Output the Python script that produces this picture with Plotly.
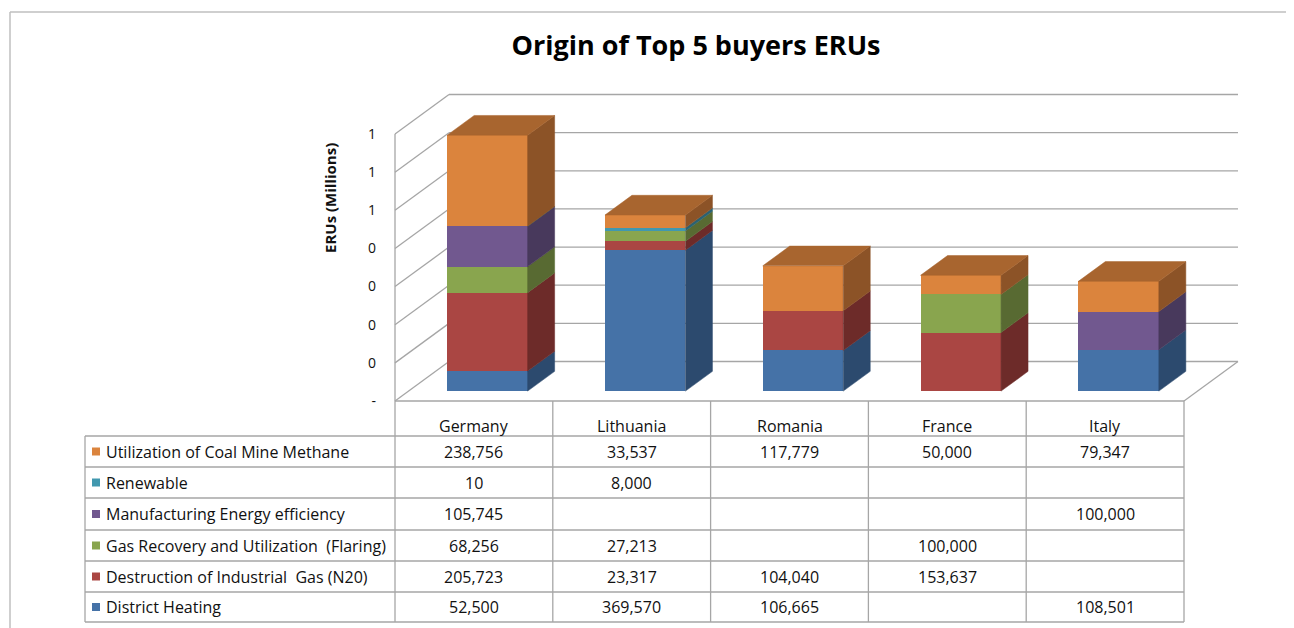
import plotly.graph_objects as go

# ---------------- data ----------------
CATEGORIES = ["Germany", "Lithuania", "Romania", "France", "Italy"]

SERIES_NAMES = [
    "District Heating",
    "Destruction of Industrial  Gas (N20)",
    "Gas Recovery and Utilization  (Flaring)",
    "Manufacturing Energy efficiency",
    "Renewable",
    "Utilization of Coal Mine Methane",
]
district_heating = [52500, 369570, 106665, None, 108501]
destruction_industrial_gas = [205723, 23317, 104040, 153637, None]
gas_recovery_flaring = [68256, 27213, None, 100000, None]
manufacturing_energy_efficiency = [105745, None, None, None, 100000]
renewable = [10, 8000, None, None, None]
coal_mine_methane = [238756, 33537, 117779, 50000, 79347]
SERIES_VALUES = [district_heating, destruction_industrial_gas, gas_recovery_flaring,
                 manufacturing_energy_efficiency, renewable, coal_mine_methane]

Y_TICK_VALUES = [0, 100000, 200000, 300000, 400000, 500000, 600000, 700000]
Y_TICK_LABELS = ["-", "0", "0", "0", "0", "1", "1", "1"]

TITLE = "Origin of Top 5 buyers ERUs"
Y_TITLE = "ERUs (Millions)"

# ---------------- styles ----------------
FRONT = ["#4572A7", "#AA4643", "#89A54E", "#71588F", "#4198AF", "#DB843D"]
SIDE = ["#2C4A6E", "#6D2B29", "#586A32", "#48395C", "#2A6273", "#8C5327"]
TOP = ["#37598A", "#8A3937", "#6F863F", "#5C4774", "#35819A", "#A8652F"]
GRID = "#A6A6A6"
FONT = "Open Sans"

OFF = 8                 # default page body margin
W, H = 1294 - OFF, 628 - OFF
COL_W = 157.8           # px per category column
X0_PX = 473.9           # page px of category 0 centre
Y0_PX = 401.0           # page px of value 0 on the front floor edge
PX_PER_UNIT = 381.4e-6  # px per ERU
DEPTH_PX = (54.0, -39.5)
BAR_D0, BAR_D1 = 0.25, 0.75
BAR_W = 0.51


def px_x(px):
    return (px - X0_PX) / COL_W


def py_y(py):
    return (Y0_PX - py) / PX_PER_UNIT


def pap_x(px):
    return (px - OFF) / W


def pap_y(py):
    return 1 - (py - OFF) / H


DXU = DEPTH_PX[0] / COL_W
DYU = -DEPTH_PX[1] / PX_PER_UNIT
XR = [px_x(OFF), px_x(OFF + W)]
YR = [py_y(OFF + H), py_y(OFF)]
SX, SY = BAR_D0 * DXU, BAR_D0 * DYU
DD = BAR_D1 - BAR_D0

fig = go.Figure()

# front faces (stacked by plotly on the shifted axes)
for k, vals in enumerate(SERIES_VALUES):
    fig.add_trace(go.Bar(
        x=list(range(len(CATEGORIES))), y=vals, width=BAR_W,
        marker=dict(color=FRONT[k], line=dict(width=0)),
        name=SERIES_NAMES[k], showlegend=False, hoverinfo="skip",
        xaxis="x2", yaxis="y2"))

# side and top faces
n = len(CATEGORIES)
for i in range(n):
    cum = 0
    top_k = None
    for k, vals in enumerate(SERIES_VALUES):
        v = vals[i] or 0
        if v <= 0:
            continue
        b, t = cum, cum + v
        xr = i + BAR_W / 2
        fig.add_trace(go.Scatter(
            x=[xr, xr + DD * DXU, xr + DD * DXU, xr, xr],
            y=[b, b + DD * DYU, t + DD * DYU, t, b],
            fill="toself", fillcolor=SIDE[k], mode="lines",
            line=dict(color=SIDE[k], width=0.5), showlegend=False,
            hoverinfo="skip", xaxis="x2", yaxis="y2"))
        cum = t
        top_k = k
    if top_k is not None:
        xl, xr = i - BAR_W / 2, i + BAR_W / 2
        fig.add_trace(go.Scatter(
            x=[xl, xr, xr + DD * DXU, xl + DD * DXU, xl],
            y=[cum, cum, cum + DD * DYU, cum + DD * DYU, cum],
            fill="toself", fillcolor=TOP[top_k], mode="lines",
            line=dict(color=TOP[top_k], width=0.5), showlegend=False,
            hoverinfo="skip", xaxis="x2", yaxis="y2"))

# invisible trace so main axes exist
fig.add_trace(go.Scatter(x=[XR[0]], y=[0], mode="markers", marker=dict(opacity=0),
                         showlegend=False, hoverinfo="skip"))

shapes = []
L, R = -0.5, n - 0.5
ln = dict(color=GRID, width=1.3)
# left wall + back wall grid
shapes.append(dict(type="line", xref="x", yref="y", x0=L, y0=0, x1=L, y1=Y_TICK_VALUES[-1],
                   line=ln, layer="below"))
for v in Y_TICK_VALUES:
    shapes.append(dict(type="line", xref="x", yref="y", x0=L, y0=v, x1=L + DXU, y1=v + DYU,
                       line=ln, layer="below"))
    shapes.append(dict(type="line", xref="x", yref="y", x0=L + DXU, y0=v + DYU, x1=R + DXU,
                       y1=v + DYU, line=ln, layer="below"))
# floor
shapes.append(dict(type="line", xref="x", yref="y", x0=L, y0=0, x1=R, y1=0, line=ln, layer="below"))
shapes.append(dict(type="line", xref="x", yref="y", x0=R, y0=0, x1=R + DXU, y1=DYU, line=ln,
                   layer="below"))

# data table
ROW_LINES_PX = [436, 467, 498, 530, 561, 592, 622]
TABLE_LEFT_PX = 85
tl = dict(color=GRID, width=1.3)
for py in ROW_LINES_PX:
    shapes.append(dict(type="line", xref="paper", yref="paper", x0=pap_x(TABLE_LEFT_PX),
                       x1=pap_x(X0_PX + R * COL_W), y0=pap_y(py), y1=pap_y(py), line=tl))
shapes.append(dict(type="line", xref="paper", yref="paper", x0=pap_x(TABLE_LEFT_PX),
                   x1=pap_x(TABLE_LEFT_PX), y0=pap_y(ROW_LINES_PX[0]), y1=pap_y(ROW_LINES_PX[-1]),
                   line=tl))
for j in range(n + 1):
    xc = L + j
    shapes.append(dict(type="line", xref="x", yref="paper", x0=xc, x1=xc,
                       y0=pap_y(Y0_PX), y1=pap_y(ROW_LINES_PX[-1]), line=tl))

# outer chart frame
frame = dict(color="#BFBFBF", width=1.5)
shapes.append(dict(type="line", xref="paper", yref="paper", x0=pap_x(10), x1=1,
                   y0=pap_y(12), y1=pap_y(12), line=frame))
shapes.append(dict(type="line", xref="paper", yref="paper", x0=pap_x(10), x1=pap_x(10),
                   y0=pap_y(12), y1=0, line=frame))

annotations = []
tf = dict(family=FONT, size=16, color="#111111")
for i, c in enumerate(CATEGORIES):
    annotations.append(dict(x=i, y=pap_y(426), xref="x", yref="paper", text=c, showarrow=False,
                            font=tf, xanchor="center", yanchor="middle"))

rows = list(range(len(SERIES_NAMES)))[::-1]
for r, k in enumerate(rows):
    yc = (ROW_LINES_PX[r] + ROW_LINES_PX[r + 1]) / 2
    shapes.append(dict(type="rect", xref="paper", yref="paper", x0=pap_x(92), x1=pap_x(100),
                       y0=pap_y(yc + 4), y1=pap_y(yc - 4), fillcolor=FRONT[k], line=dict(width=0)))
    annotations.append(dict(x=pap_x(104), y=pap_y(yc), xref="paper", yref="paper",
                            text=SERIES_NAMES[k], showarrow=False, font=tf,
                            xanchor="left", yanchor="middle"))
    for i in range(n):
        v = SERIES_VALUES[k][i]
        if v is None:
            continue
        annotations.append(dict(x=i, y=pap_y(yc), xref="x", yref="paper", text=f"{v:,}",
                                showarrow=False, font=tf, xanchor="center", yanchor="middle"))

# y-axis title
annotations.append(dict(x=pap_x(330), y=pap_y(198), xref="paper", yref="paper",
                        text=f"<b>{Y_TITLE}</b>", textangle=-90, showarrow=False,
                        font=dict(family=FONT, size=15, color="#111111"),
                        xanchor="center", yanchor="middle"))

fig.update_layout(
    width=W, height=H, margin=dict(l=0, r=0, t=0, b=0),
    paper_bgcolor="white", plot_bgcolor="white",
    barmode="stack", bargap=0,
    title=dict(text=TITLE, x=pap_x(696), xanchor="center", y=pap_y(46), yanchor="middle",
               yref="container", font=dict(family=FONT, size=27, color="#000000", weight="bold")),
    xaxis=dict(range=XR, visible=False, domain=[0, 1]),
    yaxis=dict(range=YR, domain=[0, 1], anchor="free", position=pap_x(376), side="left",
               tickvals=Y_TICK_VALUES, ticktext=Y_TICK_LABELS, showgrid=False, zeroline=False,
               showline=False, ticks="", tickfont=dict(family=FONT, size=14, color="#111111")),
    xaxis2=dict(range=[XR[0] - SX, XR[1] - SX], overlaying="x", visible=False),
    yaxis2=dict(range=[YR[0] - SY, YR[1] - SY], overlaying="y", visible=False),
    shapes=shapes, annotations=annotations, showlegend=False,
)

fig.write_html("out.html")
